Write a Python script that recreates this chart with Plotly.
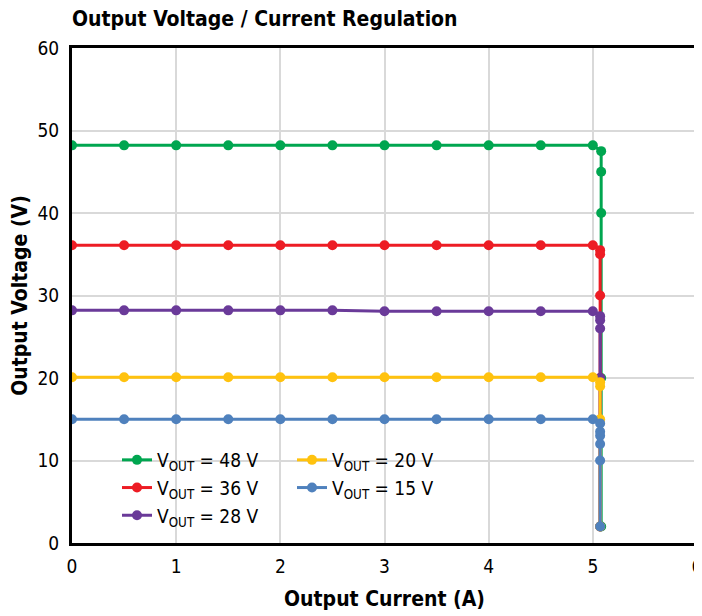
import plotly.graph_objects as go

# Data
current_flat = [0, 0.5, 1, 1.5, 2, 2.5, 3, 3.5, 4, 4.5, 5]

v48_flat = [48.2, 48.2, 48.2, 48.2, 48.2, 48.2, 48.2, 48.2, 48.2, 48.2, 48.2]
v48_drop_i = [5.08, 5.08, 5.08, 5.08, 5.08]
v48_drop_v = [47.5, 45.0, 40.0, 20.0, 2.0]

v36_flat = [36.1, 36.1, 36.1, 36.1, 36.1, 36.1, 36.1, 36.1, 36.1, 36.1, 36.1]
v36_drop_i = [5.07, 5.07, 5.07, 5.07, 5.07]
v36_drop_v = [35.5, 35.0, 30.0, 20.0, 2.0]

v28_flat = [28.2, 28.2, 28.2, 28.2, 28.2, 28.2, 28.1, 28.1, 28.1, 28.1, 28.1]
v28_drop_i = [5.07, 5.07, 5.07, 5.07, 5.07]
v28_drop_v = [27.5, 27.0, 26.0, 20.0, 2.0]

v20_flat = [20.1, 20.1, 20.1, 20.1, 20.1, 20.1, 20.1, 20.1, 20.1, 20.1, 20.1]
v20_drop_i = [5.07, 5.07, 5.07, 5.07]
v20_drop_v = [19.5, 19.0, 15.0, 2.0]

v15_flat = [15.0, 15.0, 15.0, 15.0, 15.0, 15.0, 15.0, 15.0, 15.0, 15.0, 15.0]
v15_drop_i = [5.07, 5.07, 5.07, 5.07, 5.07, 5.07]
v15_drop_v = [14.5, 13.5, 13.0, 12.0, 10.0, 2.0]

series = [
    ("V<sub>OUT</sub> = 48 V", v48_flat, v48_drop_i, v48_drop_v, "#00A650", "legend"),
    ("V<sub>OUT</sub> = 36 V", v36_flat, v36_drop_i, v36_drop_v, "#ED1C24", "legend"),
    ("V<sub>OUT</sub> = 28 V", v28_flat, v28_drop_i, v28_drop_v, "#6A3A99", "legend"),
    ("V<sub>OUT</sub> = 20 V", v20_flat, v20_drop_i, v20_drop_v, "#FFC20E", "legend2"),
    ("V<sub>OUT</sub> = 15 V", v15_flat, v15_drop_i, v15_drop_v, "#4F81BD", "legend2"),
]

FONT = "DejaVu Sans Condensed"
W, H = 702, 616
L, R, T, B = 64, 13, 40, 81
PW, PH = W - L - R, H - T - B

fig = go.Figure()
for name, flat, di, dv, color, lg in series:
    fig.add_trace(go.Scatter(
        x=current_flat + di, y=flat + dv, name=name, mode="lines+markers",
        line=dict(color=color, width=3), marker=dict(color=color, size=10),
        legend=lg,
    ))

def px_x(p):  # absolute page px -> paper x
    return (p - 8 - L) / PW

def px_y(p):  # absolute page px -> paper y
    return 1 - (p - 8 - T) / PH

leg_common = dict(orientation="v", xanchor="left", yanchor="top", bgcolor="rgba(0,0,0,0)",
                  font=dict(family=FONT, size=19), itemwidth=30, traceorder="normal")

fig.update_layout(
    width=W, height=H,
    margin=dict(l=L, r=R, t=T, b=B, autoexpand=False),
    paper_bgcolor="white", plot_bgcolor="white",
    title=dict(text="<b>Output Voltage / Current Regulation</b>", x=L / W, xanchor="left",
               y=1 - 11 / H, yanchor="middle",
               font=dict(family=FONT, size=21, color="black")),
    font=dict(family=FONT, size=19, color="black"),
    showlegend=True,
    legend=dict(x=px_x(117), y=px_y(441), **leg_common),
    legend2=dict(x=px_x(292), y=px_y(441), **leg_common),
    shapes=[dict(type="rect", xref="paper", yref="paper", layer="between",
                 x0=px_x(110), x1=px_x(445), y0=px_y(531), y1=px_y(444),
                 fillcolor="white", line=dict(width=0))],
)
fig.update_xaxes(range=[0, 6], dtick=1, showgrid=True, gridcolor="#D9D9D9", gridwidth=2,
                 showline=True, linecolor="black", linewidth=3, mirror=True, zeroline=False,
                 ticks="", tickfont=dict(size=19), automargin=False, ticklabelstandoff=4,
                 title=dict(text="<b>Output Current (A)</b>", font=dict(size=21), standoff=16))
fig.update_yaxes(range=[0, 60], dtick=10, showgrid=True, gridcolor="#D9D9D9", gridwidth=2,
                 showline=True, linecolor="black", linewidth=3, mirror=True, zeroline=False,
                 ticks="", tickfont=dict(size=19), automargin=False, ticklabelstandoff=6,
                 title=dict(text="<b>Output Voltage (V)</b>", font=dict(size=21), standoff=8))

fig.write_html("out.html")
